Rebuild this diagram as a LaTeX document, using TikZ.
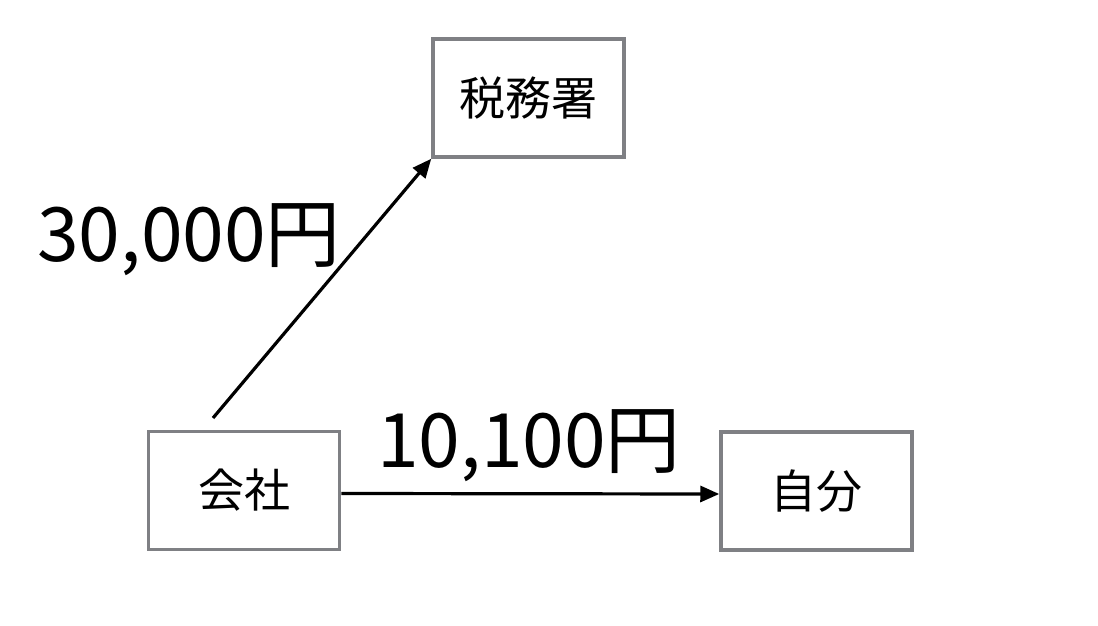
\documentclass[tikz,border=0pt]{standalone}
\usepackage{fontspec}
\setmainfont{Noto Sans CJK JP}
\usetikzlibrary{arrows.meta}
\definecolor{boxgray}{HTML}{7F8084}
\tikzset{
  box/.style={draw=boxgray, line width=3.5pt, minimum width=191pt, minimum height=118pt, inner sep=0pt, font=\fontsize{46}{50}\selectfont},
  amount/.style={inner sep=0pt, font=\fontsize{75}{80}\selectfont},
  conn/.style={line width=3.2pt, -{Triangle[length=19pt,width=16pt]}}
}
\begin{document}
\begin{tikzpicture}[x=1pt,y=-1pt]
\useasboundingbox[fill=white] (0,0) rectangle (1098,626);
\node[box] (zeimu) at (528.5,98) {税務署};
\node[box] (kaisha) at (244,490.5) {会社};
\node[box] (jibun) at (816.5,491) {自分};
\node[amount] (a30) at (189,240) {30,000円};
\node[amount] (a10) at (529,446) {10,100円};
\coordinate (start) at (213,418);
\draw[conn] (start) -- (zeimu.south west);
\draw[conn] ([yshift=-3pt]kaisha.east) -- ([yshift=-3pt]jibun.west);
\end{tikzpicture}
\end{document}
